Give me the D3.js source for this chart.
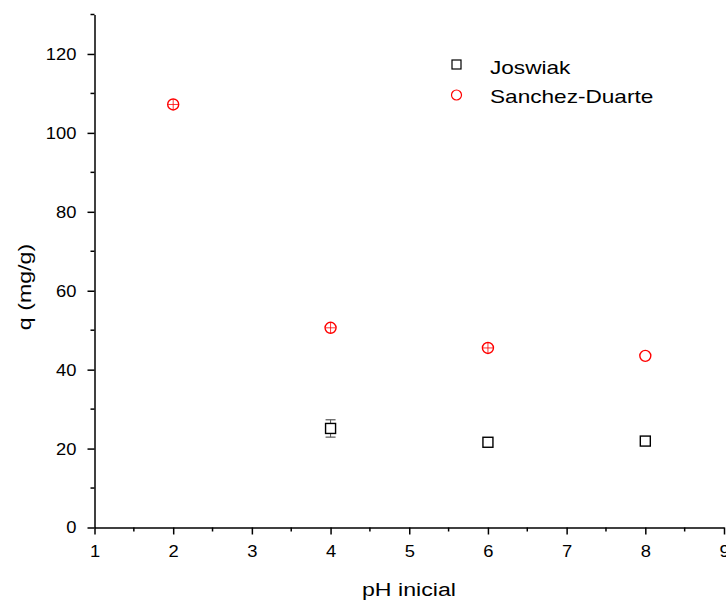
<!DOCTYPE html>
<html><head><meta charset="utf-8">
<script src="https://cdn.jsdelivr.net/npm/d3@7"></script>
<style>body{margin:0;background:#fff}svg text{font-family:"Liberation Sans",Arial,sans-serif}</style>
</head><body>
<svg id="c" width="726" height="601"></svg>
<script>
const xTicks = [1,2,3,4,5,6,7,8,9];
const yTicks = [0,20,40,60,80,100,120];
const joswiakX = [4,6,8];
const joswiakY = [25.1,21.6,21.9];
const joswiakErr = [2.2,0,0];
const sanchezX = [2,4,6,8];
const sanchezY = [107.2,50.6,45.5,43.5];
const sanchezErr = [1.3,1.3,1.3,0];
const seriesNames = ["Joswiak","Sanchez-Duarte"];

const svg = d3.select("#c");
const x = d3.scaleLinear().domain([1,9]).range([94.5,724]);
const y = d3.scaleLinear().domain([0,130]).range([527.5,14.5]);

// text placed with horizontal glyph scaling
function sText(parent, tx, ty, str, size, sx, anchor, rot){
  const t = parent.append("text")
    .attr("transform", `translate(${tx},${ty})` + (rot?` rotate(${rot})`:"") + ` scale(${sx},1)`)
    .attr("font-size", size).attr("text-anchor", anchor||"start").attr("fill","#000").text(str);
  return t;
}

// axes
const xAxis = d3.axisBottom(x).tickValues(xTicks).tickFormat(d3.format("d")).tickSize(7).tickSizeOuter(0);
const gx = svg.append("g").attr("transform","translate(0,527.5)").call(xAxis);
gx.selectAll(".tick text").attr("font-size",17).attr("font-family","Liberation Sans, Arial, sans-serif")
  .attr("dy","1.15em").attr("fill","#000").attr("transform","scale(1.08,1)");
gx.selectAll("line,path").attr("stroke","#000").attr("stroke-width",1.5);
const gxm = svg.append("g").attr("transform","translate(0,527.5)");
gxm.selectAll("line").data(d3.range(1.5,9,1)).enter().append("line")
  .attr("x1",d=>x(d)).attr("x2",d=>x(d)).attr("y1",0).attr("y2",4).attr("stroke","#000").attr("stroke-width",1.5);

const yAxis = d3.axisLeft(y).tickValues(yTicks).tickSize(7).tickSizeOuter(0);
const gy = svg.append("g").attr("transform","translate(94.5,0)").call(yAxis);
gy.selectAll(".tick text").attr("font-size",17).attr("font-family","Liberation Sans, Arial, sans-serif")
  .attr("x",-18/1.08).attr("fill","#000").attr("transform","scale(1.08,1)");
gy.selectAll("line,path").attr("stroke","#000").attr("stroke-width",1.5);
const gym = svg.append("g").attr("transform","translate(94.5,0)");
gym.selectAll("line").data(d3.range(10,131,20)).enter().append("line")
  .attr("x1",0).attr("x2",-4).attr("y1",d=>y(d)).attr("y2",d=>y(d)).attr("stroke","#000").attr("stroke-width",1.5);

// axis titles
sText(svg, 409, 596, "pH inicial", 19, 1.22, "middle");
sText(svg, 31, 287, "q (mg/g)", 19, 1.22, "middle", -90);

// Joswiak
const jd = joswiakX.map((v,i)=>({x:v,y:joswiakY[i],e:joswiakErr[i]}));
const ge = svg.append("g");
jd.filter(d=>d.e>0).forEach(d=>{
  ge.append("line").attr("x1",x(d.x)).attr("x2",x(d.x)).attr("y1",y(d.y+d.e)).attr("y2",y(d.y-d.e)).attr("stroke","#555").attr("stroke-width",1);
  [d.y+d.e,d.y-d.e].forEach(v=>ge.append("line").attr("x1",x(d.x)-5).attr("x2",x(d.x)+5).attr("y1",y(v)).attr("y2",y(v)).attr("stroke","#555").attr("stroke-width",1.2));
});
svg.append("g").selectAll("rect").data(jd).enter().append("rect")
  .attr("x",d=>x(d.x)-5).attr("y",d=>y(d.y)-5).attr("width",10).attr("height",10)
  .attr("fill","#fff").attr("stroke","#000").attr("stroke-width",1.4);

// Sanchez
const sd = sanchezX.map((v,i)=>({x:v,y:sanchezY[i],e:sanchezErr[i]}));
const gs = svg.append("g");
sd.forEach(d=>{
  gs.append("circle").attr("cx",x(d.x)).attr("cy",y(d.y)).attr("r",5.5).attr("fill","#fff").attr("stroke","#f00").attr("stroke-width",1.4);
  if(d.e>0){
    gs.append("line").attr("x1",x(d.x)).attr("x2",x(d.x)).attr("y1",y(d.y+d.e)).attr("y2",y(d.y-d.e)).attr("stroke","#f00").attr("stroke-width",0.8);
    gs.append("line").attr("x1",x(d.x)-5).attr("x2",x(d.x)+5).attr("y1",y(d.y)).attr("y2",y(d.y)).attr("stroke","#f00").attr("stroke-width",0.8);
  }
});

// legend
const lg = svg.append("g");
lg.append("rect").attr("x",452).attr("y",60).attr("width",9).attr("height",9).attr("fill","#fff").attr("stroke","#000").attr("stroke-width",1.2);
lg.append("circle").attr("cx",456.5).attr("cy",95).attr("r",5).attr("fill","#fff").attr("stroke","#f00").attr("stroke-width",1.2);
sText(lg, 490, 74, seriesNames[0], 19, 1.19, "start");
sText(lg, 490, 103, seriesNames[1], 19, 1.19, "start");
</script>
</body></html>
